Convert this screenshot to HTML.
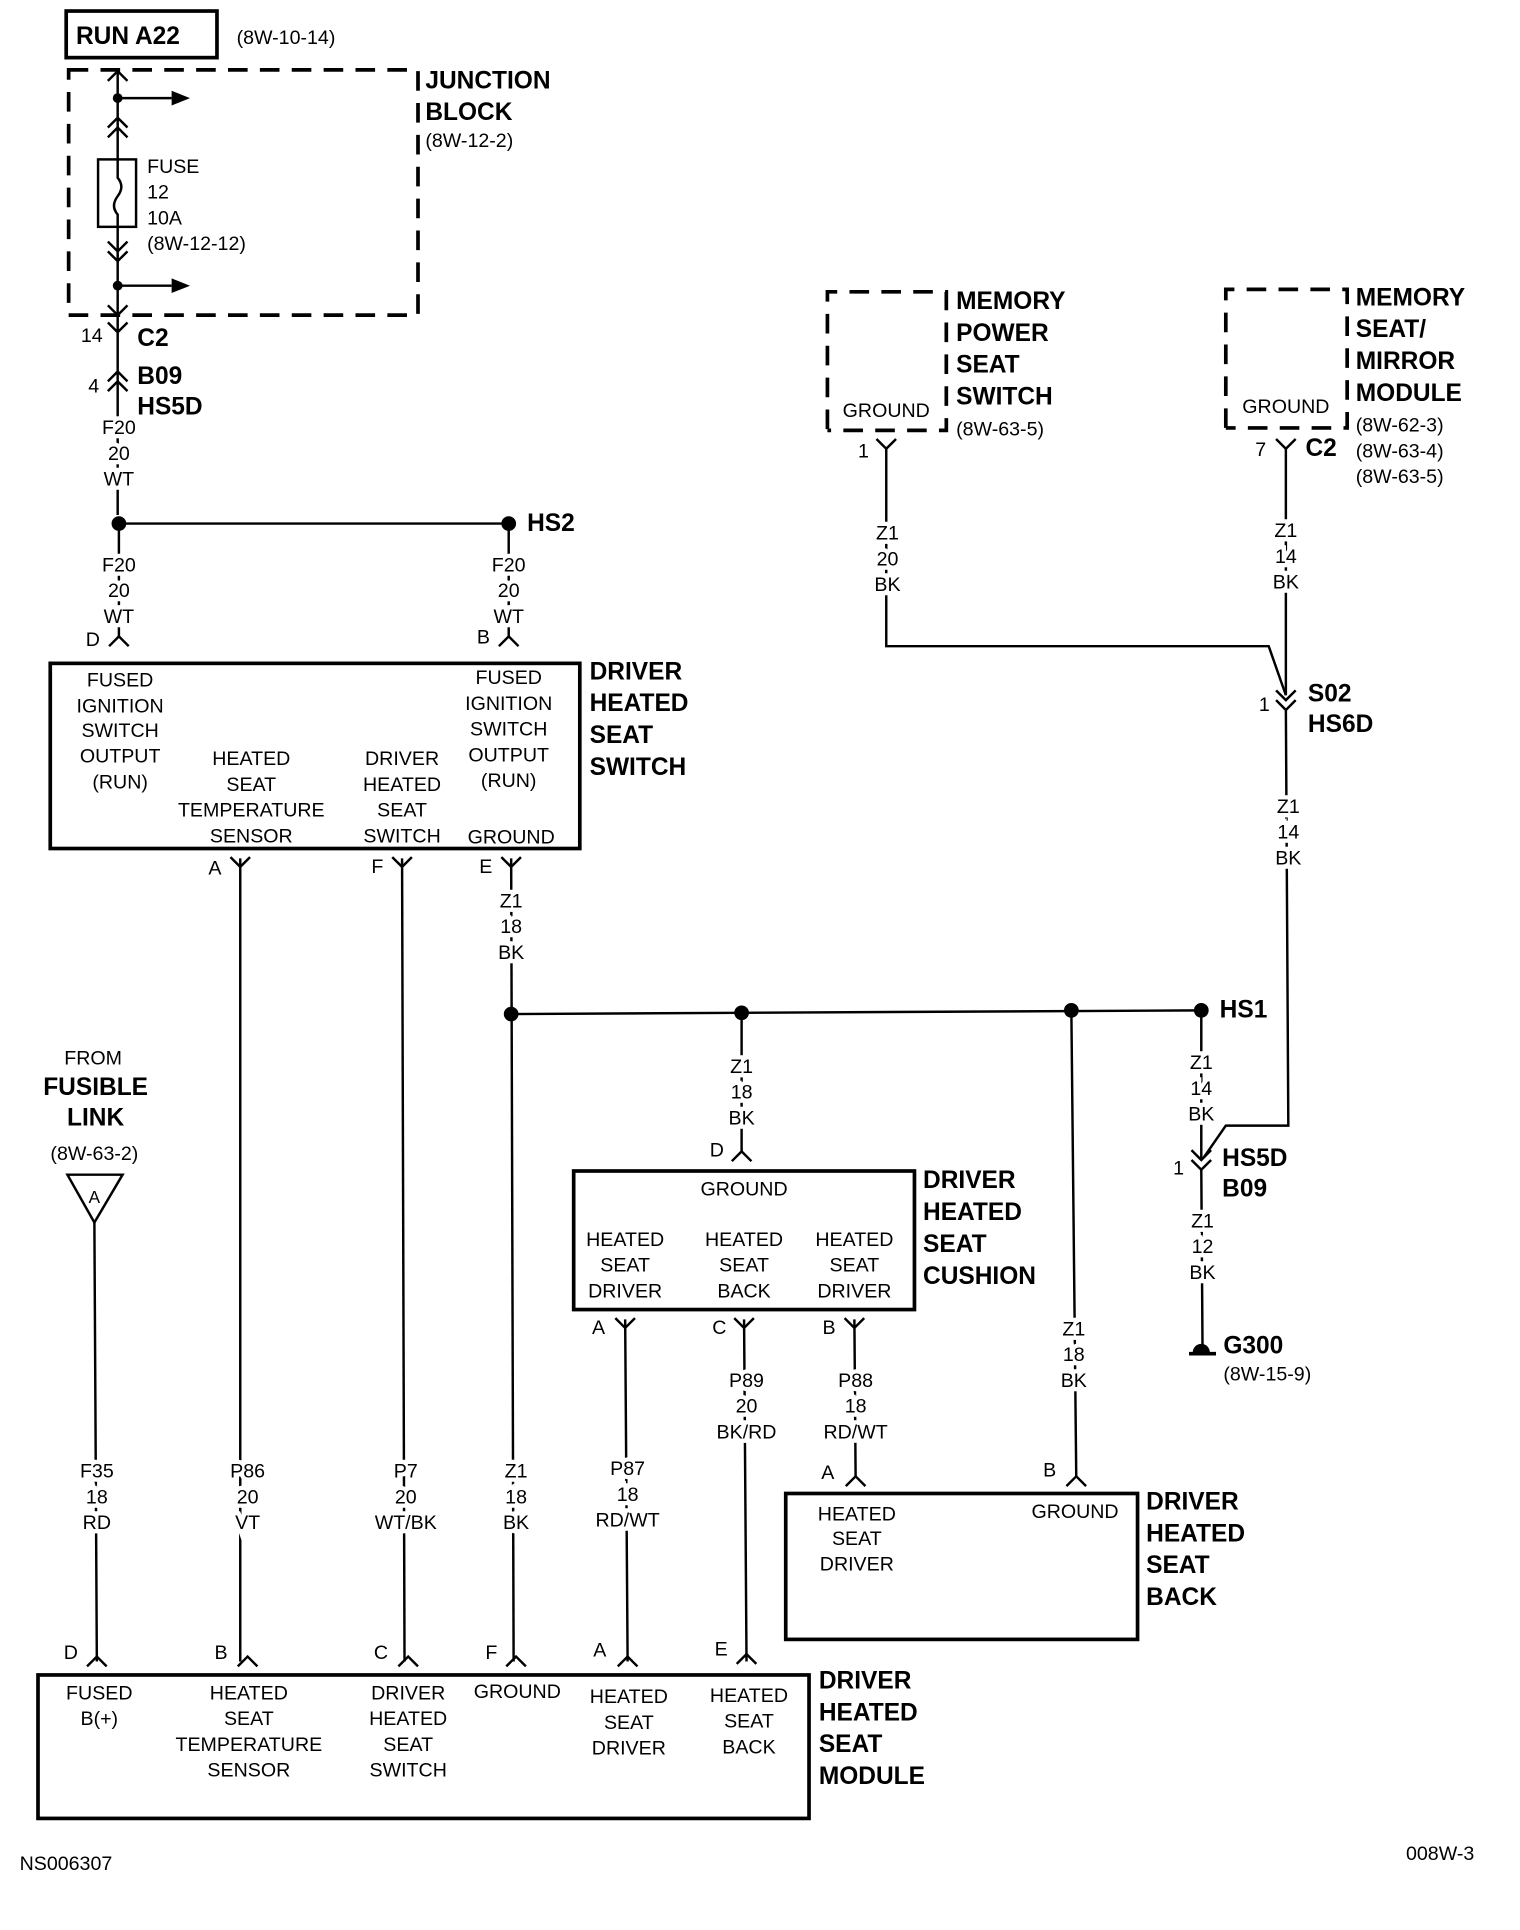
<!DOCTYPE html>
<html><head><meta charset="utf-8"><style>
html,body{margin:0;padding:0;background:#fff;}
svg{display:block;}
text{font-family:"Liberation Sans",sans-serif;fill:#000;}
.t{font-size:16px;}
.c{font-size:16px;text-anchor:middle;}
.w{font-size:16px;text-anchor:middle;paint-order:stroke;stroke:#fff;stroke-width:7px;}
.b{font-size:20px;font-weight:bold;}
</style></head><body>
<svg width="1520" height="1930" viewBox="0 0 1240 1574" preserveAspectRatio="none" xmlns="http://www.w3.org/2000/svg">
<g fill="none" stroke="#000" stroke-width="2">
<!-- top -->
<rect x="54" y="9" width="123" height="38" stroke-width="3"/>
<rect x="56" y="57" width="285" height="200" stroke-width="3" stroke-dasharray="16,10"/>
<line x1="96" y1="58" x2="96" y2="420"/>
<path d="M88,66 L96,58 L104,66"/>
<line x1="96" y1="80" x2="140" y2="80"/>
<path d="M88,104 L96,96 L104,104 M88,112 L96,104 L104,112"/>
<rect x="80" y="130" width="31" height="55" fill="#fff"/>
<path d="M96,130 L96,145 Q102,152 96,160 Q90,168 96,175 L96,185"/>
<path d="M88,197 L96,205 L104,197 M88,205 L96,213 L104,205"/>
<line x1="96" y1="233" x2="140" y2="233"/>
<path d="M88,249 L96,257 L104,249"/>
<path d="M88,263 L96,271 L104,263"/>
<path d="M88,311 L96,303 L104,311 M88,319 L96,311 L104,319"/>
<line x1="97" y1="427" x2="415" y2="427"/>
<line x1="97" y1="427" x2="97" y2="520"/>
<line x1="415" y1="427" x2="415" y2="520"/>
<path d="M89,527 L97,519 L105,527"/>
<path d="M407,527 L415,519 L423,527"/>
<rect x="41" y="541" width="432" height="151" stroke-width="3"/>
<!-- below switch -->
<path d="M188,699 L196,707 L204,699"/><line x1="196" y1="700" x2="196" y2="1355"/>
<path d="M320,699 L328,707 L336,699"/><line x1="328" y1="700" x2="330" y2="1355"/>
<path d="M409,699 L417,707 L425,699"/><line x1="417" y1="700" x2="419" y2="1355"/>
<line x1="417" y1="827" x2="980" y2="824"/>
<line x1="605" y1="826" x2="605" y2="940"/>
<path d="M597,947 L605,939 L613,947"/>
<rect x="468" y="955" width="278" height="113" stroke-width="3"/>
<path d="M502,1075 L510,1083 L518,1075"/><line x1="510" y1="1076" x2="512" y2="1355"/>
<path d="M599,1075 L607,1083 L615,1075"/><line x1="607" y1="1076" x2="609" y2="1355"/>
<path d="M689,1075 L697,1083 L705,1075"/><line x1="697" y1="1076" x2="698" y2="1205"/>
<path d="M690,1212 L698,1204 L706,1212"/>
<line x1="874" y1="824" x2="878" y2="1205"/>
<path d="M870,1212 L878,1204 L886,1212"/>
<rect x="641" y="1218" width="287" height="119" stroke-width="3"/>
<!-- right -->
<path d="M675,350 L675,238 L772,238 L772,351 L675,351" stroke-width="3" stroke-dasharray="16,10"/>
<path d="M1000,349 L1000,236 L1099,236 L1099,349 L1000,349" stroke-width="3" stroke-dasharray="16,10"/>
<path d="M715,358 L723,366 L731,358"/>
<path d="M723,366 L723,527 L1035,527 L1049,567"/>
<path d="M1041,358 L1049,366 L1057,358"/>
<line x1="1049" y1="366" x2="1049" y2="567"/>
<path d="M1041,563 L1049,571 L1057,563 M1041,571 L1049,579 L1057,571"/>
<path d="M1049,579 L1051,918 L1000,918 L982,944"/>
<line x1="980" y1="824" x2="980" y2="945"/>
<path d="M972,938 L980,946 L988,938 M972,946 L980,954 L988,946"/>
<line x1="980" y1="954" x2="981" y2="1098"/>
<line x1="970" y1="1104" x2="992" y2="1104" stroke-width="3"/>
<!-- left bottom -->
<path d="M55,958 L100,958 L77,997 Z"/>
<line x1="77" y1="997" x2="79" y2="1355"/>
<path d="M71,1359 L79,1351 L87,1359"/>
<path d="M194,1359 L202,1351 L210,1359"/>
<path d="M325,1359 L333,1351 L341,1359"/>
<path d="M413,1359 L421,1351 L429,1359"/>
<path d="M504,1359 L512,1351 L520,1359"/>
<path d="M601,1357 L609,1349 L617,1357"/>
<rect x="31" y="1366" width="629" height="117" stroke-width="3"/>
</g>
<g fill="#000">
<circle cx="96" cy="80" r="4"/><circle cx="96" cy="233" r="4"/>
<path d="M140,74 L155,80 L140,86 Z"/><path d="M140,227 L155,233 L140,239 Z"/>
<circle cx="97" cy="427" r="6"/><circle cx="415" cy="427" r="6"/>
<circle cx="417" cy="827" r="6"/><circle cx="605" cy="826" r="6"/><circle cx="874" cy="824" r="6"/><circle cx="980" cy="824" r="6"/>
<path d="M973,1103 A7,7 0 0 1 987,1103 Z"/>
</g>
<text class="b" x="62" y="36">RUN A22</text>
<text class="t" x="193" y="36">(8W-10-14)</text>
<text class="b" x="347" y="72">JUNCTION</text>
<text class="b" x="347" y="98">BLOCK</text>
<text class="t" x="347" y="120">(8W-12-2)</text>
<text class="t" x="120" y="141">FUSE</text>
<text class="t" x="120" y="162">12</text>
<text class="t" x="120" y="183">10A</text>
<text class="t" x="120" y="204">(8W-12-12)</text>
<text class="t" x="66" y="279">14</text>
<text class="b" x="112" y="282">C2</text>
<text class="t" x="72" y="320">4</text>
<text class="b" x="112" y="313">B09</text>
<text class="b" x="112" y="338">HS5D</text>
<text class="w" x="97" y="354">F20</text><text class="w" x="97" y="375">20</text><text class="w" x="97" y="396">WT</text>
<text class="b" x="430" y="433">HS2</text>
<text class="w" x="97" y="466">F20</text><text class="w" x="97" y="487">20</text><text class="w" x="97" y="508">WT</text>
<text class="w" x="415" y="466">F20</text><text class="w" x="415" y="487">20</text><text class="w" x="415" y="508">WT</text>
<text class="t" x="70" y="527">D</text><text class="t" x="389" y="525">B</text>
<text class="c" x="98" y="560">FUSED</text><text class="c" x="98" y="581">IGNITION</text><text class="c" x="98" y="601">SWITCH</text><text class="c" x="98" y="622">OUTPUT</text><text class="c" x="98" y="643">(RUN)</text>
<text class="c" x="415" y="558">FUSED</text><text class="c" x="415" y="579">IGNITION</text><text class="c" x="415" y="600">SWITCH</text><text class="c" x="415" y="621">OUTPUT</text><text class="c" x="415" y="642">(RUN)</text>
<text class="c" x="205" y="624">HEATED</text><text class="c" x="205" y="645">SEAT</text><text class="c" x="205" y="666">TEMPERATURE</text><text class="c" x="205" y="687">SENSOR</text>
<text class="c" x="328" y="624">DRIVER</text><text class="c" x="328" y="645">HEATED</text><text class="c" x="328" y="666">SEAT</text><text class="c" x="328" y="687">SWITCH</text>
<text class="c" x="417" y="688">GROUND</text>
<text class="b" x="481" y="554">DRIVER</text><text class="b" x="481" y="580">HEATED</text><text class="b" x="481" y="606">SEAT</text><text class="b" x="481" y="632">SWITCH</text>
<text class="t" x="170" y="713">A</text><text class="t" x="303" y="712">F</text><text class="t" x="391" y="712">E</text>
<text class="w" x="417" y="740">Z1</text><text class="w" x="417" y="761">18</text><text class="w" x="417" y="782">BK</text>
<text class="b" x="995" y="830">HS1</text>
<text class="w" x="605" y="875">Z1</text><text class="w" x="605" y="896">18</text><text class="w" x="605" y="917">BK</text>
<text class="t" x="579" y="943">D</text>
<text class="c" x="607" y="975">GROUND</text>
<text class="c" x="510" y="1016">HEATED</text><text class="c" x="510" y="1037">SEAT</text><text class="c" x="510" y="1058">DRIVER</text>
<text class="c" x="607" y="1016">HEATED</text><text class="c" x="607" y="1037">SEAT</text><text class="c" x="607" y="1058">BACK</text>
<text class="c" x="697" y="1016">HEATED</text><text class="c" x="697" y="1037">SEAT</text><text class="c" x="697" y="1058">DRIVER</text>
<text class="b" x="753" y="969">DRIVER</text><text class="b" x="753" y="995">HEATED</text><text class="b" x="753" y="1021">SEAT</text><text class="b" x="753" y="1047">CUSHION</text>
<text class="t" x="483" y="1088">A</text><text class="t" x="581" y="1088">C</text><text class="t" x="671" y="1088">B</text>
<text class="w" x="609" y="1131">P89</text><text class="w" x="609" y="1152">20</text><text class="w" x="609" y="1173">BK/RD</text>
<text class="w" x="698" y="1131">P88</text><text class="w" x="698" y="1152">18</text><text class="w" x="698" y="1173">RD/WT</text>
<text class="w" x="876" y="1089">Z1</text><text class="w" x="876" y="1110">18</text><text class="w" x="876" y="1131">BK</text>
<text class="t" x="670" y="1206">A</text><text class="t" x="851" y="1204">B</text>
<text class="c" x="699" y="1240">HEATED</text><text class="c" x="699" y="1260">SEAT</text><text class="c" x="699" y="1281">DRIVER</text>
<text class="c" x="877" y="1238">GROUND</text>
<text class="b" x="935" y="1231">DRIVER</text><text class="b" x="935" y="1257">HEATED</text><text class="b" x="935" y="1283">SEAT</text><text class="b" x="935" y="1309">BACK</text>
<text class="c" x="723" y="340">GROUND</text>
<text class="b" x="780" y="252">MEMORY</text><text class="b" x="780" y="278">POWER</text><text class="b" x="780" y="304">SEAT</text><text class="b" x="780" y="330">SWITCH</text>
<text class="t" x="780" y="355">(8W-63-5)</text>
<text class="t" x="700" y="373">1</text>
<text class="w" x="724" y="440">Z1</text><text class="w" x="724" y="461">20</text><text class="w" x="724" y="482">BK</text>
<text class="c" x="1049" y="337">GROUND</text>
<text class="b" x="1106" y="249">MEMORY</text><text class="b" x="1106" y="275">SEAT/</text><text class="b" x="1106" y="301">MIRROR</text><text class="b" x="1106" y="327">MODULE</text>
<text class="t" x="1106" y="352">(8W-62-3)</text><text class="t" x="1106" y="373">(8W-63-4)</text><text class="t" x="1106" y="394">(8W-63-5)</text>
<text class="t" x="1024" y="372">7</text><text class="b" x="1065" y="372">C2</text>
<text class="w" x="1049" y="438">Z1</text><text class="w" x="1049" y="459">14</text><text class="w" x="1049" y="480">BK</text>
<text class="t" x="1027" y="580">1</text>
<text class="b" x="1067" y="572">S02</text><text class="b" x="1067" y="597">HS6D</text>
<text class="w" x="1051" y="663">Z1</text><text class="w" x="1051" y="684">14</text><text class="w" x="1051" y="705">BK</text>
<text class="w" x="980" y="872">Z1</text><text class="w" x="980" y="893">14</text><text class="w" x="980" y="914">BK</text>
<text class="t" x="957" y="958">1</text>
<text class="b" x="997" y="951">HS5D</text><text class="b" x="997" y="976">B09</text>
<text class="w" x="981" y="1001">Z1</text><text class="w" x="981" y="1022">12</text><text class="w" x="981" y="1043">BK</text>
<text class="b" x="998" y="1104">G300</text>
<text class="t" x="998" y="1126">(8W-15-9)</text>
<text class="c" x="76" y="868">FROM</text>
<text class="b" x="78" y="893" text-anchor="middle">FUSIBLE</text><text class="b" x="78" y="918" text-anchor="middle">LINK</text>
<text class="c" x="77" y="946">(8W-63-2)</text>
<text class="c" x="77" y="981" style="font-size:14px">A</text>
<text class="w" x="79" y="1205">F35</text><text class="w" x="79" y="1226">18</text><text class="w" x="79" y="1247">RD</text>
<text class="w" x="202" y="1205">P86</text><text class="w" x="202" y="1226">20</text><text class="w" x="202" y="1247">VT</text>
<text class="w" x="331" y="1205">P7</text><text class="w" x="331" y="1226">20</text><text class="w" x="331" y="1247">WT/BK</text>
<text class="w" x="421" y="1205">Z1</text><text class="w" x="421" y="1226">18</text><text class="w" x="421" y="1247">BK</text>
<text class="w" x="512" y="1203">P87</text><text class="w" x="512" y="1224">18</text><text class="w" x="512" y="1245">RD/WT</text>
<text class="t" x="52" y="1353">D</text><text class="t" x="175" y="1353">B</text><text class="t" x="305" y="1353">C</text><text class="t" x="396" y="1353">F</text><text class="t" x="484" y="1351">A</text><text class="t" x="583" y="1350">E</text>
<text class="c" x="81" y="1386">FUSED</text><text class="c" x="81" y="1407">B(+)</text>
<text class="c" x="203" y="1386">HEATED</text><text class="c" x="203" y="1407">SEAT</text><text class="c" x="203" y="1428">TEMPERATURE</text><text class="c" x="203" y="1449">SENSOR</text>
<text class="c" x="333" y="1386">DRIVER</text><text class="c" x="333" y="1407">HEATED</text><text class="c" x="333" y="1428">SEAT</text><text class="c" x="333" y="1449">SWITCH</text>
<text class="c" x="422" y="1385">GROUND</text>
<text class="c" x="513" y="1389">HEATED</text><text class="c" x="513" y="1410">SEAT</text><text class="c" x="513" y="1431">DRIVER</text>
<text class="c" x="611" y="1388">HEATED</text><text class="c" x="611" y="1409">SEAT</text><text class="c" x="611" y="1430">BACK</text>
<text class="b" x="668" y="1377">DRIVER</text><text class="b" x="668" y="1403">HEATED</text><text class="b" x="668" y="1429">SEAT</text><text class="b" x="668" y="1455">MODULE</text>
<text class="t" x="16" y="1525">NS006307</text>
<text class="t" x="1147" y="1517">008W-3</text>
</svg>
</body></html>
